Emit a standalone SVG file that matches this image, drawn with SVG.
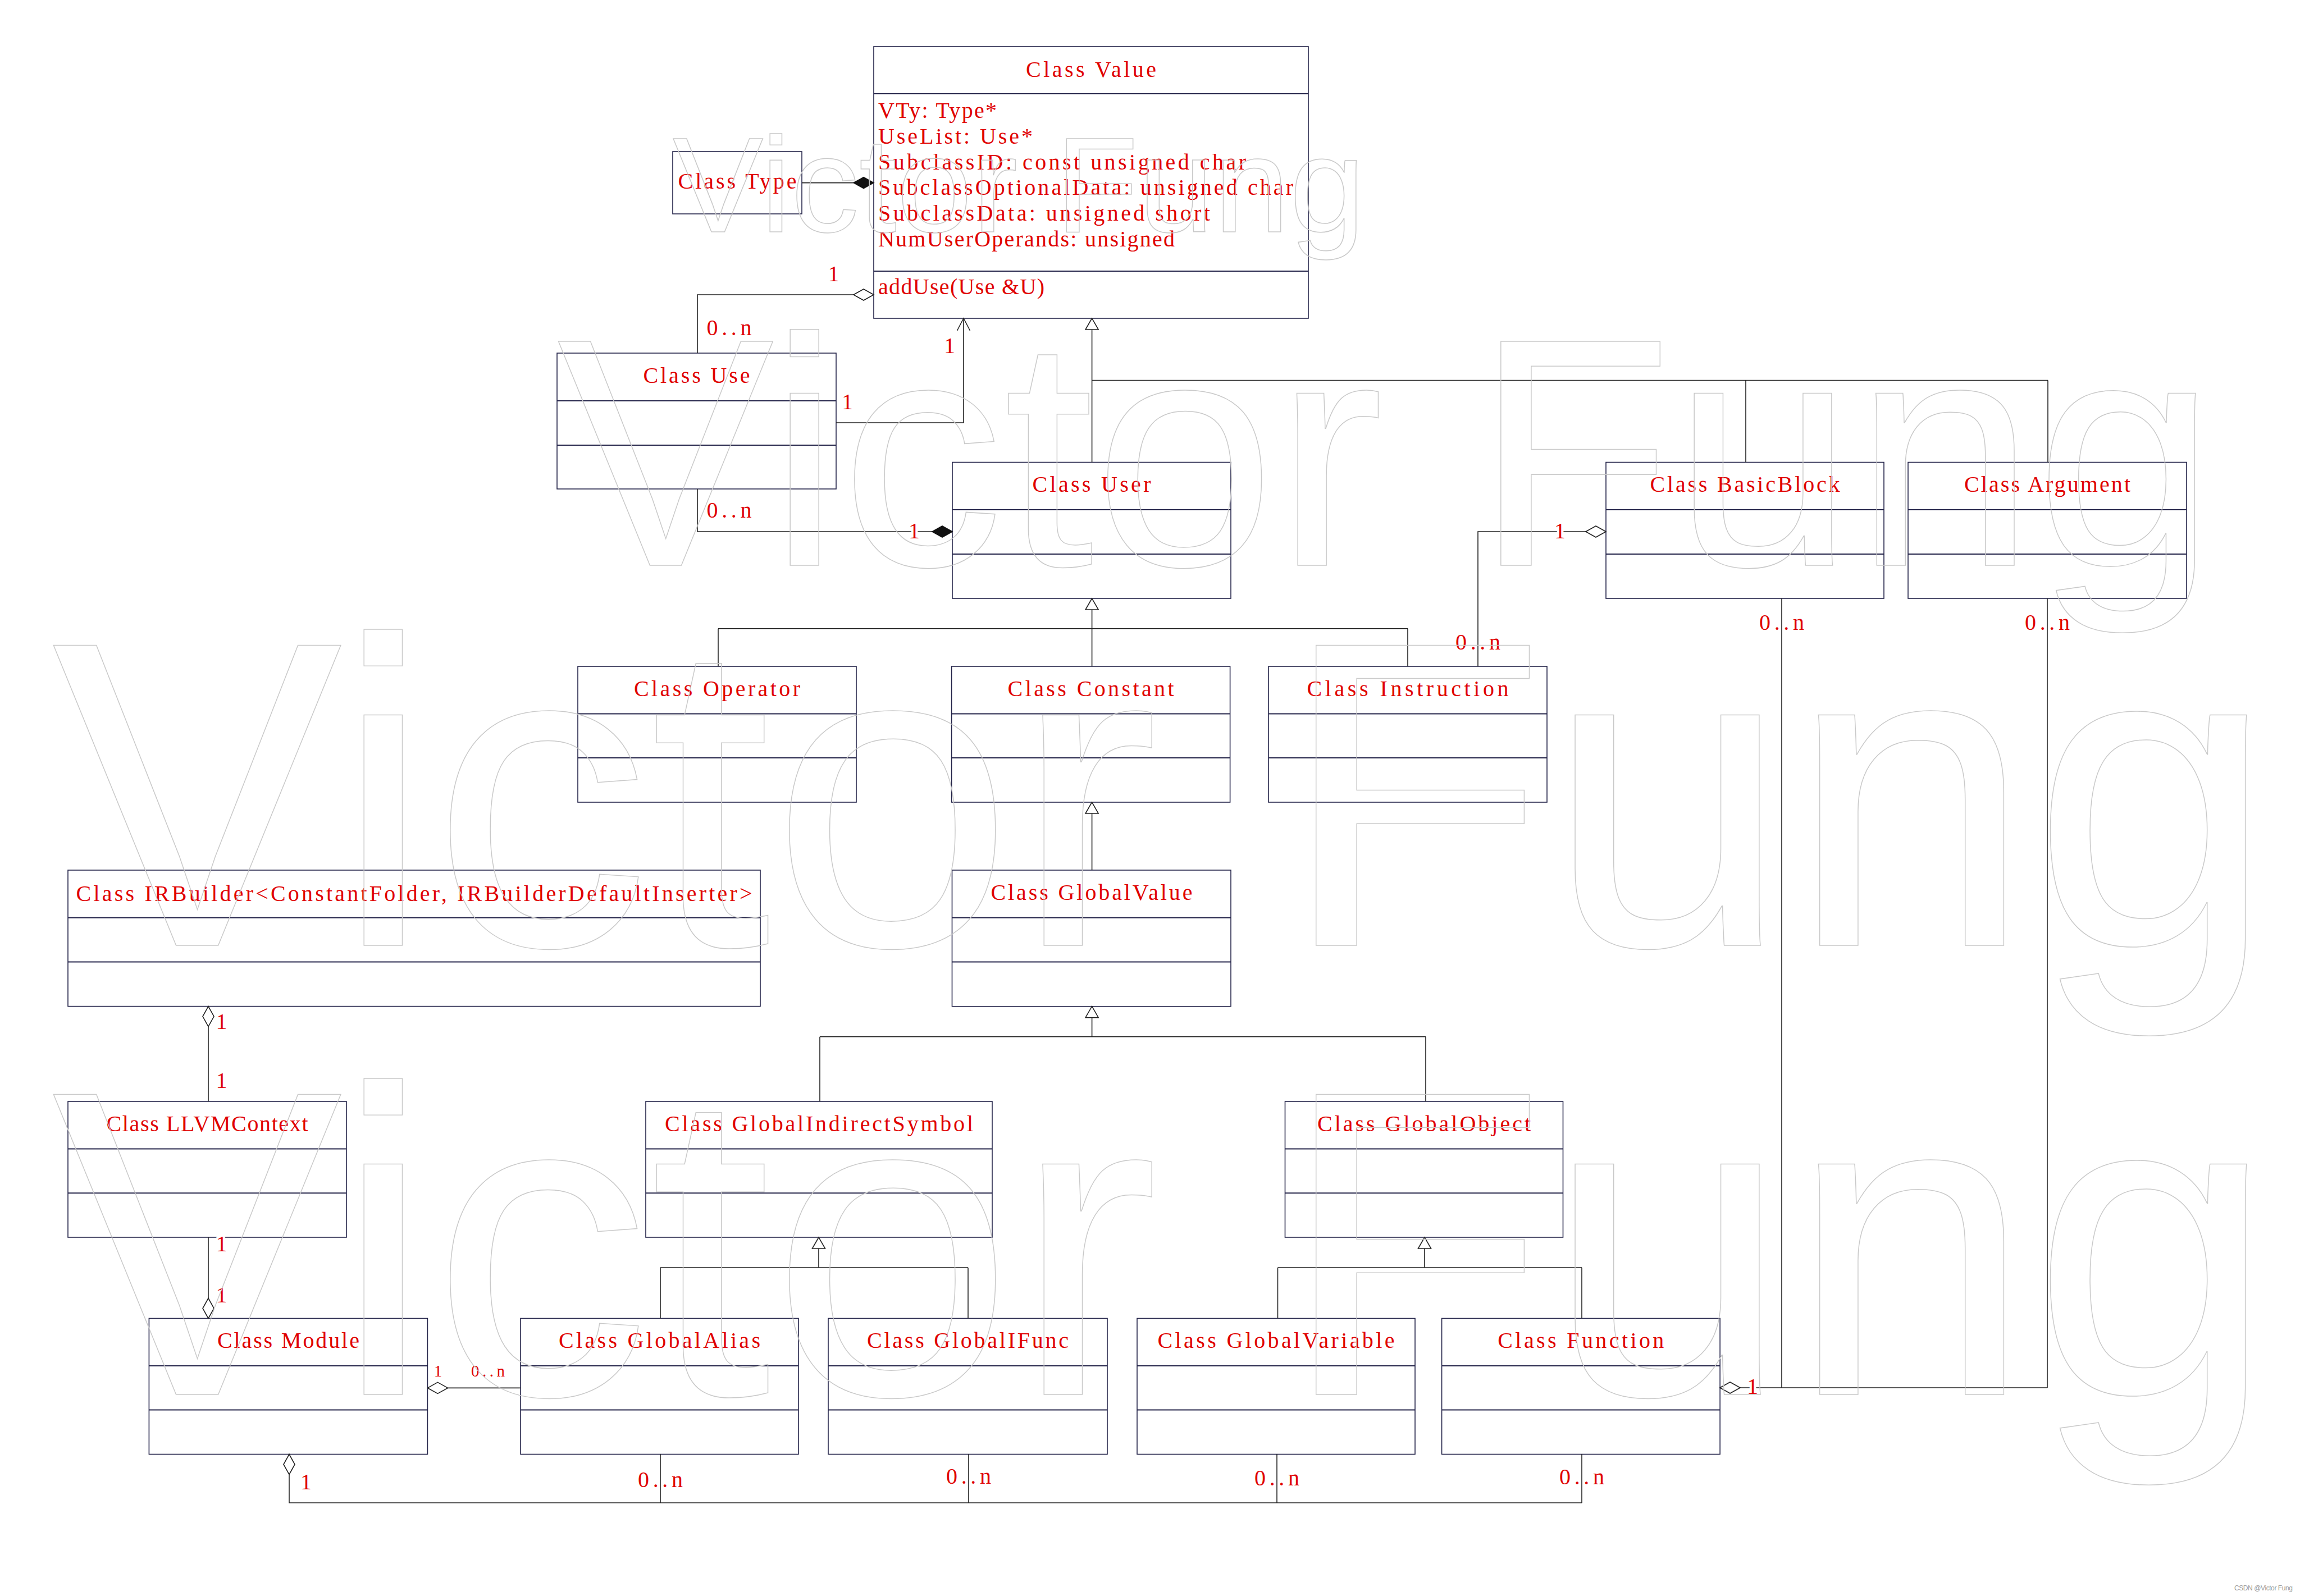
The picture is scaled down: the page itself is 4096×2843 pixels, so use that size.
<svg xmlns="http://www.w3.org/2000/svg" width="4096" height="2843" viewBox="0 0 4096 2843">
<style>
.box{fill:#fff;stroke:#25254a;stroke-width:1.6}
.sep{stroke:#25254a;stroke-width:2}
.t{font-family:"Liberation Serif","Times New Roman",serif;font-size:40px;fill:#e00000}
.c{text-anchor:middle}
.ln{fill:none;stroke:#222;stroke-width:1.6}
.lbl{font-family:"Liberation Serif","Times New Roman",serif;font-size:40px;fill:#e00000;text-anchor:middle;paint-order:stroke;stroke:#fff;stroke-width:8px;stroke-linejoin:round}
.sm{font-size:29px}
.dh{fill:#fff;stroke:#222;stroke-width:1.6}
.df{fill:#111;stroke:#111;stroke-width:1.6}
.tri{fill:#fff;stroke:#222;stroke-width:1.6}
.wm{font-family:"Liberation Sans",Arial,sans-serif;fill:none;stroke:#c9c9c9;stroke-width:1.5}
</style>
<rect x="0" y="0" width="4096" height="2843" fill="#fff"/>

<g id="node-value">
<rect class="box" x="1556" y="83" width="774" height="484"/>
<line class="sep" x1="1556" y1="167" x2="2330" y2="167"/>
<line class="sep" x1="1556" y1="483" x2="2330" y2="483"/>
<text class="t c" x="1943" y="137" textLength="232" lengthAdjust="spacing">Class Value</text>
<text class="t" x="1564" y="210" textLength="211" lengthAdjust="spacing">VTy: Type*</text>
<text class="t" x="1564" y="256" textLength="275" lengthAdjust="spacing">UseList: Use*</text>
<text class="t" x="1564" y="302" textLength="655" lengthAdjust="spacing">SubclassID: const unsigned char</text>
<text class="t" x="1564" y="347" textLength="739" lengthAdjust="spacing">SubclassOptionalData: unsigned char</text>
<text class="t" x="1564" y="393" textLength="591" lengthAdjust="spacing">SubclassData: unsigned short</text>
<text class="t" x="1564" y="439" textLength="528" lengthAdjust="spacing">NumUserOperands: unsigned</text>
<text class="t" x="1564" y="524" textLength="296" lengthAdjust="spacing">addUse(Use &amp;U)</text>
</g>

<g id="node-type">
<rect class="box" x="1198" y="270" width="230" height="111"/>
<text class="t c" x="1313" y="336" textLength="211" lengthAdjust="spacing">Class Type</text>
</g>

<g id="node-use">
<rect class="box" x="992" y="629" width="497" height="242"/>
<line class="sep" x1="992" y1="714" x2="1489" y2="714"/>
<line class="sep" x1="992" y1="793" x2="1489" y2="793"/>
<text class="t c" x="1240.5" y="682" textLength="190" lengthAdjust="spacing">Class Use</text>
</g>

<g id="node-user">
<rect class="box" x="1696" y="823.5" width="496" height="242.5"/>
<line class="sep" x1="1696" y1="908" x2="2192" y2="908"/>
<line class="sep" x1="1696" y1="987" x2="2192" y2="987"/>
<text class="t c" x="1944" y="876" textLength="211" lengthAdjust="spacing">Class User</text>
</g>

<g id="node-basicblock">
<rect class="box" x="2860" y="823.5" width="495" height="242.5"/>
<line class="sep" x1="2860" y1="908" x2="3355" y2="908"/>
<line class="sep" x1="2860" y1="987" x2="3355" y2="987"/>
<text class="t c" x="3107.5" y="876" textLength="338" lengthAdjust="spacing">Class BasicBlock</text>
</g>

<g id="node-argument">
<rect class="box" x="3398" y="823.5" width="496" height="242.5"/>
<line class="sep" x1="3398" y1="908" x2="3894" y2="908"/>
<line class="sep" x1="3398" y1="987" x2="3894" y2="987"/>
<text class="t c" x="3646" y="876" textLength="296" lengthAdjust="spacing">Class Argument</text>
</g>

<g id="node-operator">
<rect class="box" x="1029" y="1187" width="496" height="242"/>
<line class="sep" x1="1029" y1="1271.5" x2="1525" y2="1271.5"/>
<line class="sep" x1="1029" y1="1350" x2="1525" y2="1350"/>
<text class="t c" x="1277" y="1240" textLength="296" lengthAdjust="spacing">Class Operator</text>
</g>

<g id="node-constant">
<rect class="box" x="1694.6" y="1187" width="496" height="242"/>
<line class="sep" x1="1694.6" y1="1271.5" x2="2190.6" y2="1271.5"/>
<line class="sep" x1="1694.6" y1="1350" x2="2190.6" y2="1350"/>
<text class="t c" x="1942.6" y="1240" textLength="296" lengthAdjust="spacing">Class Constant</text>
</g>

<g id="node-instruction">
<rect class="box" x="2259" y="1187" width="496" height="242"/>
<line class="sep" x1="2259" y1="1271.5" x2="2755" y2="1271.5"/>
<line class="sep" x1="2259" y1="1350" x2="2755" y2="1350"/>
<text class="t c" x="2507" y="1240" textLength="359" lengthAdjust="spacing">Class Instruction</text>
</g>

<g id="node-irbuilder">
<rect class="box" x="121" y="1550" width="1233" height="242.6"/>
<line class="sep" x1="121" y1="1634.8" x2="1354" y2="1634.8"/>
<line class="sep" x1="121" y1="1713.4" x2="1354" y2="1713.4"/>
<text class="t c" x="737.5" y="1605" textLength="1204" lengthAdjust="spacing">Class IRBuilder&lt;ConstantFolder, IRBuilderDefaultInserter&gt;</text>
</g>

<g id="node-globalvalue">
<rect class="box" x="1695.5" y="1550" width="496.5" height="242.7"/>
<line class="sep" x1="1695.5" y1="1634.8" x2="2192" y2="1634.8"/>
<line class="sep" x1="1695.5" y1="1713.4" x2="2192" y2="1713.4"/>
<text class="t c" x="1944" y="1603" textLength="359" lengthAdjust="spacing">Class GlobalValue</text>
</g>

<g id="node-llvmcontext">
<rect class="box" x="121" y="1962" width="496" height="242"/>
<line class="sep" x1="121" y1="2046.6" x2="617" y2="2046.6"/>
<line class="sep" x1="121" y1="2125.3" x2="617" y2="2125.3"/>
<text class="t c" x="369" y="2015" textLength="359" lengthAdjust="spacing">Class LLVMContext</text>
</g>

<g id="node-globalindirectsymbol">
<rect class="box" x="1150" y="1962" width="617" height="242"/>
<line class="sep" x1="1150" y1="2046.6" x2="1767" y2="2046.6"/>
<line class="sep" x1="1150" y1="2125.3" x2="1767" y2="2125.3"/>
<text class="t c" x="1458.5" y="2015" textLength="549" lengthAdjust="spacing">Class GlobalIndirectSymbol</text>
</g>

<g id="node-globalobject">
<rect class="box" x="2288.5" y="1962" width="495" height="242"/>
<line class="sep" x1="2288.5" y1="2046.6" x2="2783.5" y2="2046.6"/>
<line class="sep" x1="2288.5" y1="2125.3" x2="2783.5" y2="2125.3"/>
<text class="t c" x="2536" y="2015" textLength="380" lengthAdjust="spacing">Class GlobalObject</text>
</g>

<g id="node-module">
<rect class="box" x="265.4" y="2348.5" width="496" height="242"/>
<line class="sep" x1="265.4" y1="2433" x2="761.4" y2="2433"/>
<line class="sep" x1="265.4" y1="2511.6" x2="761.4" y2="2511.6"/>
<text class="t c" x="513.4" y="2401" textLength="253" lengthAdjust="spacing">Class Module</text>
</g>

<g id="node-globalalias">
<rect class="box" x="927" y="2348.5" width="495" height="242"/>
<line class="sep" x1="927" y1="2433" x2="1422" y2="2433"/>
<line class="sep" x1="927" y1="2511.6" x2="1422" y2="2511.6"/>
<text class="t c" x="1174.5" y="2401" textLength="359" lengthAdjust="spacing">Class GlobalAlias</text>
</g>

<g id="node-globalifunc">
<rect class="box" x="1475" y="2348.5" width="497" height="242"/>
<line class="sep" x1="1475" y1="2433" x2="1972" y2="2433"/>
<line class="sep" x1="1475" y1="2511.6" x2="1972" y2="2511.6"/>
<text class="t c" x="1723.5" y="2401" textLength="359" lengthAdjust="spacing">Class GlobalIFunc</text>
</g>

<g id="node-globalvariable">
<rect class="box" x="2025" y="2348.5" width="495" height="242"/>
<line class="sep" x1="2025" y1="2433" x2="2520" y2="2433"/>
<line class="sep" x1="2025" y1="2511.6" x2="2520" y2="2511.6"/>
<text class="t c" x="2272.5" y="2401" textLength="422" lengthAdjust="spacing">Class GlobalVariable</text>
</g>

<g id="node-function">
<rect class="box" x="2567.6" y="2348.5" width="495.5" height="242"/>
<line class="sep" x1="2567.6" y1="2433" x2="3063.1" y2="2433"/>
<line class="sep" x1="2567.6" y1="2511.6" x2="3063.1" y2="2511.6"/>
<text class="t c" x="2815.3" y="2401" textLength="296" lengthAdjust="spacing">Class Function</text>
</g>

<g id="connectors">
<path class="ln" d="M1428 325.6 H1520"/>
<polygon class="df" points="1556,325.6 1538,315.6 1520,325.6 1538,335.6"/>
<path class="ln" d="M1242 629 V525 H1520"/>
<polygon class="dh" points="1556,525 1538,515 1520,525 1538,535"/>
<text class="lbl" x="1484.5" y="501">1</text>
<text class="lbl" x="1298.5" y="597" textLength="80" lengthAdjust="spacing">0..n</text>
<path class="ln" d="M1489 753 H1716 V567"/>
<polyline class="ln" points="1704.5,589 1716,567 1727.5,589"/>
<text class="lbl" x="1509" y="729">1</text>
<text class="lbl" x="1691" y="629">1</text>
<path class="ln" d="M1944.6 587 V823.5 M1944.6 677.5 H3647 M3109 677.5 V823.5 M3647 677.5 V823.5"/>
<polygon class="tri" points="1944.6,567 1933.1,587 1956.1,587"/>
<path class="ln" d="M1242 871 V947 H1660"/>
<polygon class="df" points="1696,947 1678,937 1660,947 1678,957"/>
<text class="lbl" x="1298.5" y="922" textLength="80" lengthAdjust="spacing">0..n</text>
<text class="lbl" x="1628" y="959">1</text>
<path class="ln" d="M2632 1187 V947 H2824"/>
<polygon class="dh" points="2860,947 2842,937 2824,947 2842,957"/>
<text class="lbl" x="2778" y="959">1</text>
<text class="lbl" x="2632" y="1157" textLength="80" lengthAdjust="spacing">0..n</text>
<path class="ln" d="M1944.6 1086 V1187 M1279 1119.7 H2507 M1279 1119.7 V1187 M2507 1119.7 V1187"/>
<polygon class="tri" points="1944.6,1066 1933.1,1086 1956.1,1086"/>
<path class="ln" d="M1944.6 1449 V1550"/>
<polygon class="tri" points="1944.6,1429 1933.1,1449 1956.1,1449"/>
<path class="ln" d="M1944.6 1812.7 V1846.7 M1460 1846.7 H2539 M1460 1846.7 V1962 M2539 1846.7 V1962"/>
<polygon class="tri" points="1944.6,1792.7 1933.1,1812.7 1956.1,1812.7"/>
<path class="ln" d="M1458 2224 V2258 M1176 2258 H1724 M1176 2258 V2348.5 M1724 2258 V2348.5"/>
<polygon class="tri" points="1458,2204 1446.5,2224 1469.5,2224"/>
<path class="ln" d="M2537 2224 V2258 M2275.5 2258 H2817 M2275.5 2258 V2348.5 M2817 2258 V2348.5"/>
<polygon class="tri" points="2537,2204 2525.5,2224 2548.5,2224"/>
<path class="ln" d="M371 1828.6 V1962"/>
<polygon class="dh" points="371,1792.6 381,1810.6 371,1828.6 361,1810.6"/>
<text class="lbl" x="394.6" y="1833">1</text>
<text class="lbl" x="394.6" y="1938">1</text>
<path class="ln" d="M371 2204 V2312.5"/>
<polygon class="dh" points="371,2348.5 381,2330.5 371,2312.5 361,2330.5"/>
<text class="lbl" x="394.6" y="2229">1</text>
<text class="lbl" x="394.6" y="2320">1</text>
<path class="ln" d="M797.4 2472.4 H927"/>
<polygon class="dh" points="761.4,2472.4 779.4,2462.4 797.4,2472.4 779.4,2482.4"/>
<text class="lbl sm" x="780" y="2452">1</text>
<text class="lbl sm" x="869" y="2452" textLength="60" lengthAdjust="spacing">0..n</text>
<path class="ln" d="M515 2626.5 V2677 H2817 M1176 2590.5 V2677 M1725 2590.5 V2677 M2274 2590.5 V2677 M2817 2590.5 V2677"/>
<polygon class="dh" points="515,2590.5 525,2608.5 515,2626.5 505,2608.5"/>
<text class="lbl" x="545" y="2653">1</text>
<text class="lbl" x="1176" y="2649" textLength="80" lengthAdjust="spacing">0..n</text>
<text class="lbl" x="1725" y="2643" textLength="80" lengthAdjust="spacing">0..n</text>
<text class="lbl" x="2274" y="2646" textLength="80" lengthAdjust="spacing">0..n</text>
<text class="lbl" x="2817" y="2644" textLength="80" lengthAdjust="spacing">0..n</text>
<path class="ln" d="M3099 2472 H3646 M3173 1066 V2472 M3646 1066 V2472"/>
<polygon class="dh" points="3063,2472 3081,2462 3099,2472 3081,2482"/>
<text class="lbl" x="3173" y="1122" textLength="80" lengthAdjust="spacing">0..n</text>
<text class="lbl" x="3646" y="1122" textLength="80" lengthAdjust="spacing">0..n</text>
<text class="lbl" x="3121" y="2483">1</text>
</g>

<g id="watermark">
<text class="wm" x="1198" y="412.5" font-size="242">Victor Fung</text>
<text class="wm" x="992" y="1007" font-size="580">Victor Fung</text>
<text class="wm" x="92" y="1684" font-size="777">Victor Fung</text>
<text class="wm" x="92" y="2484" font-size="777">Victor Fung</text>
<text x="3979" y="2833" font-family="Liberation Sans, Arial, sans-serif" font-size="12" fill="#999" textLength="104">CSDN @Victor Fung</text>
</g>
</svg>
